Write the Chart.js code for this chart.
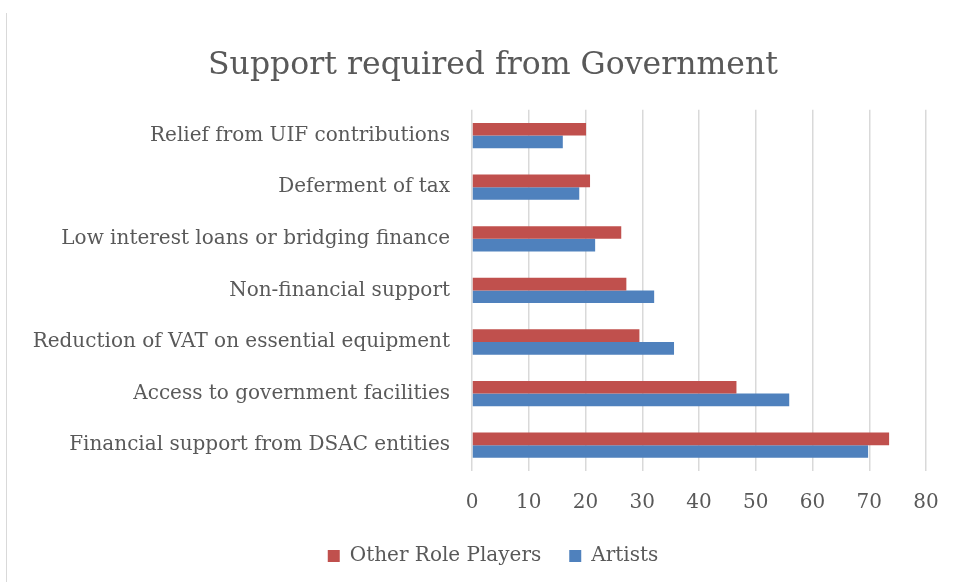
<!DOCTYPE html>
<html>
<head>
<meta charset="utf-8">
<script src="https://cdn.jsdelivr.net/npm/chart.js@4.4.1/dist/chart.umd.min.js"></script>
<style>
    html, body { margin: 0; padding: 0; background: #fff; }
    #wrap { position: relative; width: 955px; height: 582px; }
    #frame { position: absolute; left: 6px; top: 13px; bottom: 0; width: 0; border-left: 1px solid #d9d9d9; }
</style>
</head>
<body>
<div id="wrap">
    <div id="frame"></div>
    <canvas id="supportChart" width="955" height="582"></canvas>
</div>
<script>
const categories = [
    'Relief from UIF contributions',
    'Deferment of tax',
    'Low interest loans or bridging finance',
    'Non-financial support',
    'Reduction of VAT on essential equipment',
    'Access to government facilities',
    'Financial support from DSAC entities'
];
const otherRolePlayers = [20.1, 20.8, 26.3, 27.2, 29.5, 46.6, 73.5];
const artists = [16.0, 18.9, 21.7, 32.1, 35.6, 55.9, 69.8];
const xTicks = [0, 10, 20, 30, 40, 50, 60, 70, 80];

const textColor = '#595959';
const fontFamily = '"DejaVu Serif", "Liberation Serif", serif';

// Comment: title and legend sit a bit right of the canvas centre in the original
const shiftBlocks = {
    id: 'shiftBlocks',
    afterLayout(chart) {
        const dx = 30;
        [chart.titleBlock, chart.legend].forEach(b => {
            if (!b) return;
            b.left += dx;
            b.right += dx;
        });
    }
};

const ctx = document.getElementById('supportChart').getContext('2d');

new Chart(ctx, {
    type: 'bar',
    data: {
        labels: categories,
        datasets: [
            {
                label: 'Other Role Players',
                data: otherRolePlayers,
                backgroundColor: '#C0504D',
                barPercentage: 1,
                categoryPercentage: 0.49
            },
            {
                label: 'Artists',
                data: artists,
                backgroundColor: '#4F81BD',
                barPercentage: 1,
                categoryPercentage: 0.49
            }
        ]
    },
    options: {
        indexAxis: 'y',
        responsive: false,
        animation: false,
        layout: { padding: { left: 0, right: 29, top: 0, bottom: 6 } },
        plugins: {
            title: {
                display: true,
                text: 'Support required from Government',
                color: textColor,
                font: { family: fontFamily, size: 31.5, weight: 'normal' },
                padding: { top: 47, bottom: 25 }
            },
            legend: {
                position: 'bottom',
                labels: {
                    color: textColor,
                    font: { family: fontFamily, size: 20 },
                    boxWidth: 12,
                    boxHeight: 12,
                    padding: 28
                }
            },
            tooltip: { enabled: false }
        },
        scales: {
            x: {
                min: 0,
                max: 80,
                afterBuildTicks: (scale) => { scale.ticks = xTicks.map(v => ({ value: v })); },
                afterFit: (scale) => {
                    scale.height = 47;
                    scale.paddingRight = 0; // Comment: let the "80" label hang into the layout padding
                },
                ticks: {
                    color: textColor,
                    font: { family: fontFamily, size: 20 },
                    padding: 20
                },
                grid: { color: '#d9d9d9', lineWidth: 1.5, drawTicks: false },
                border: { display: false }
            },
            y: {
                afterFit: (scale) => { scale.width = 472; },
                ticks: {
                    color: textColor,
                    font: { family: fontFamily, size: 20 },
                    padding: 22
                },
                grid: { display: false, drawTicks: false },
                border: { display: false }
            }
        }
    },
    plugins: [shiftBlocks]
});
</script>
</body>
</html>
